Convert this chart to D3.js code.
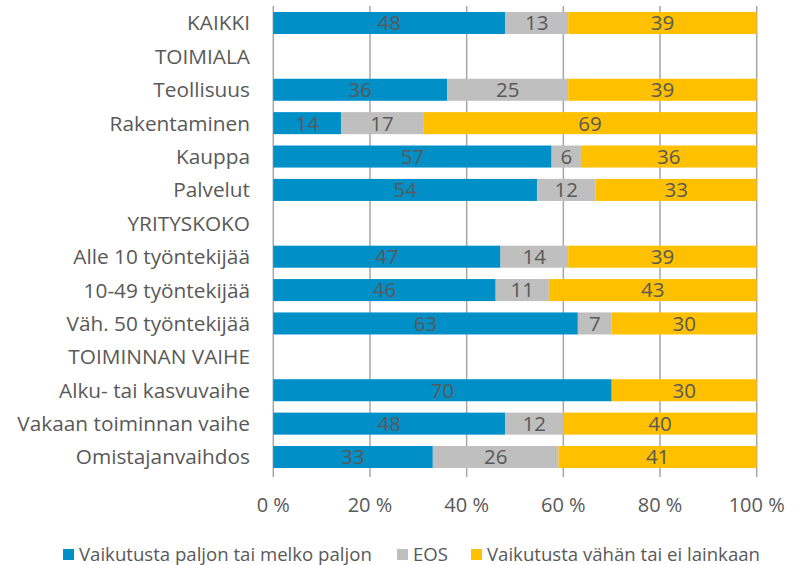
<!DOCTYPE html>
<html><head><meta charset="utf-8">
<script src="https://cdn.jsdelivr.net/npm/d3@7"></script>
<style>body{margin:0;background:#fff;} text{font-family:"Open Sans",sans-serif;}</style>
</head><body>
<svg id="c" width="800" height="565"></svg>
<script>
const categories = ["KAIKKI","TOIMIALA","Teollisuus","Rakentaminen","Kauppa","Palvelut","YRITYSKOKO","Alle 10 työntekijää","10-49 työntekijää","Väh. 50 työntekijää","TOIMINNAN VAIHE","Alku- tai kasvuvaihe","Vakaan toiminnan vaihe","Omistajanvaihdos"];
const seriesNames = ["Vaikutusta paljon tai melko paljon","EOS","Vaikutusta vähän tai ei lainkaan"];
const paljon = [48,null,36,14,57,54,null,47,46,63,null,70,48,33];
const eos    = [13,null,25,17,6,12,null,14,11,7,null,0,12,26];
const vahan  = [39,null,39,69,36,33,null,39,43,30,null,30,40,41];
const tickLabels = ["0 %","20 %","40 %","60 %","80 %","100 %"];
const colors = ["#0090C7","#BFBFBF","#FFC000"];

const svg = d3.select("#c");
const x = d3.scaleLinear().domain([0,1]).range([273.3,756.7]);
const y = d3.scaleBand().domain(categories).range([6.3,473.7]).paddingInner(0.34).paddingOuter(0.17);

const rows = categories.map((c,i)=>({cat:c, s0:paljon[i]||0, s1:eos[i]||0, s2:vahan[i]||0, has: paljon[i]!==null}));
const stack = d3.stack().keys(["s0","s1","s2"]).offset(d3.stackOffsetExpand);
const stacked = stack(rows.filter(r=>r.has));

const ticks = d3.range(0,1.0001,0.2);
svg.append("g").selectAll("line").data(ticks).join("line")
  .attr("x1",d=>x(d)).attr("x2",d=>x(d)).attr("y1",6).attr("y2",477)
  .attr("stroke","#A6A6A6").attr("stroke-width",1.5);

const g = svg.append("g");
stacked.forEach((layer,k)=>{
  g.append("g").selectAll("rect").data(layer).join("rect")
    .attr("x",d=>x(d[0])).attr("width",d=>Math.max(0,x(d[1])-x(d[0])))
    .attr("y",d=>y(d.data.cat)).attr("height",y.bandwidth())
    .attr("fill",colors[k]);
  g.append("g").selectAll("text").data(layer.filter(d=>d.data["s"+k]>0)).join("text")
    .attr("x",d=>(x(d[0])+x(d[1]))/2).attr("y",d=>y(d.data.cat)+y.bandwidth()/2)
    .attr("dy","0.36em").attr("text-anchor","middle")
    .attr("fill","#595959").attr("font-size",20.5)
    .text(d=>d.data["s"+k]);
});

svg.append("g").selectAll("text").data(categories).join("text")
  .attr("x",250).attr("y",d=>y(d)+y.bandwidth()/2).attr("dy","0.36em")
  .attr("text-anchor","end").attr("fill","#595959").attr("font-size",20.8)
  .text(d=>d);

svg.append("g").selectAll("text").data(ticks).join("text")
  .attr("x",d=>x(d)).attr("y",505).attr("dy","0.36em").attr("text-anchor","middle")
  .attr("fill","#595959").attr("font-size",20)
  .text((d,i)=>tickLabels[i]);

const legX = [63,397,471];
const lg = svg.append("g");
seriesNames.forEach((n,i)=>{
  lg.append("rect").attr("x",legX[i]).attr("y",549).attr("width",11).attr("height",11).attr("fill",colors[i]);
  lg.append("text").attr("x",legX[i]+16).attr("y",554).attr("dy","0.36em")
    .attr("fill","#595959").attr("font-size",18.6).text(n);
});
</script>
</body></html>
